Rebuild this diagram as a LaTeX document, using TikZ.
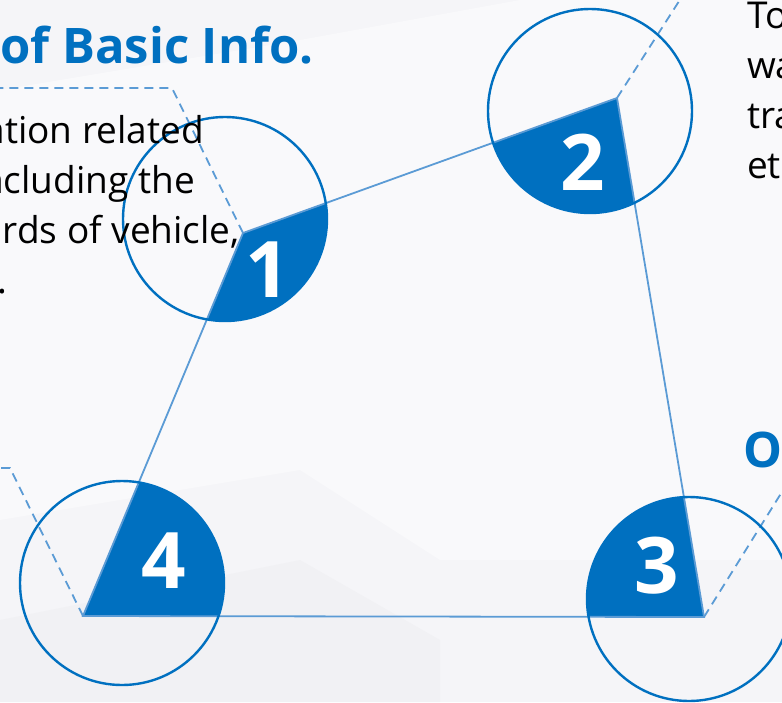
\documentclass[tikz,border=0pt]{standalone}
\usepackage{fontspec}
\setmainfont{Open Sans}
\usetikzlibrary{positioning}
\usepackage{xcolor}
\definecolor{deepblue}{HTML}{0070C0}
\definecolor{lineblue}{HTML}{5B9BD5}
\definecolor{paper}{HTML}{F5F5F8}
\definecolor{facet}{HTML}{F9F9FB}
\definecolor{mist}{HTML}{F1F1F4}
\def\ringrad{102pt}

\begin{document}
\begin{tikzpicture}[x=1pt,y=-1pt]
    \tikzstyle{edge}=[draw=lineblue, line width=1.8pt]
    \tikzstyle{guide}=[draw=lineblue, line width=1.8pt, dash pattern=on 9pt off 6pt]
    \tikzstyle{ring}=[circle, draw=deepblue, line width=2.4pt, minimum size=204pt, inner sep=0pt]
    \tikzstyle{wedge}=[fill=deepblue]
    \tikzstyle{num}=[text=white, font=\fontsize{78}{78}\selectfont\bfseries, inner sep=0pt]
    \tikzstyle{head}=[text=deepblue, font=\fontsize{49}{58}\selectfont\bfseries, inner sep=0pt]
    \tikzstyle{body}=[text=black, font=\fontsize{37}{50}\selectfont, inner sep=0pt]

    \useasboundingbox (0,0) rectangle (782,702);
    % background with soft facets
    \fill[paper] (0,0) rectangle (782,702);
    \fill[facet] (0,90) -- (300,40) -- (520,0) -- (782,0) -- (782,560) -- (440,560) -- (300,470) -- (0,520) -- cycle;
    \fill[mist] (0,620) -- (300,560) -- (440,640) -- (440,702) -- (0,702) -- cycle;

    \coordinate (V-1) at (243,233);
    \coordinate (V-2) at (617,98);
    \coordinate (V-3) at (704,617);
    \coordinate (V-4) at (83,616);

    \coordinate (O-1) at (225,219);
    \coordinate (O-2) at (590,111);
    \coordinate (O-3) at (689,599);
    \coordinate (O-4) at (122,583);

    % corner pieces = quad inside the rings
    \begin{scope}
        \clip (O-1) circle (\ringrad) (O-2) circle (\ringrad) (O-3) circle (\ringrad) (O-4) circle (\ringrad);
        \fill[wedge] (V-1) -- (V-2) -- (V-3) -- (V-4) -- cycle;
    \end{scope}

    \draw[edge] (V-1) -- (V-2) -- (V-3) -- (V-4) -- cycle;

    \coordinate (D-1) at (172,88);
    \coordinate (E-1) at (-5,88);
    \coordinate (E-2) at (683,-5);
    \coordinate (E-3) at (790,479);
    \coordinate (D-4) at (10,468);
    \coordinate (E-4) at (-5,468);

    \draw[guide] (V-1) -- (D-1) -- (E-1);
    \draw[guide] (V-2) -- (E-2);
    \draw[guide] (V-3) -- (E-3);
    \draw[guide] (V-4) -- (D-4) -- (E-4);

    \node[ring] (C-1) at (O-1) {};
    \node[ring] (C-2) at (O-2) {};
    \node[ring] (C-3) at (O-3) {};
    \node[ring] (C-4) at (O-4) {};

    \node[num] (N-1) at (268,270) {1};
    \node[num] (N-2) at (583,162) {2};
    \node[num] (N-3) at (657,566) {3};
    \node[num] (N-4) at (164,561) {4};

    \node[head, anchor=base west] (H-1) at (0,63) {of Basic Info.};
    \node[head, anchor=base west] (H-2) at (743,467) {O};

    \node[body, anchor=base east] (L-1) at (204,143) {ation related};
    \node[body, anchor=base east] (L-2) at (195,193) {ncluding the};
    \node[body, anchor=base east] (L-3) at (240,243) {rds of vehicle,};
    \node[body, anchor=base west] (L-4) at (-3,293) {.};

    \node[body, anchor=base west] (R-1) at (747,28) {To};
    \node[body, anchor=base west] (R-2) at (747,78) {wa};
    \node[body, anchor=base west] (R-3) at (747,128) {tra};
    \node[body, anchor=base west] (R-4) at (747,178) {et};
\end{tikzpicture}
\end{document}
